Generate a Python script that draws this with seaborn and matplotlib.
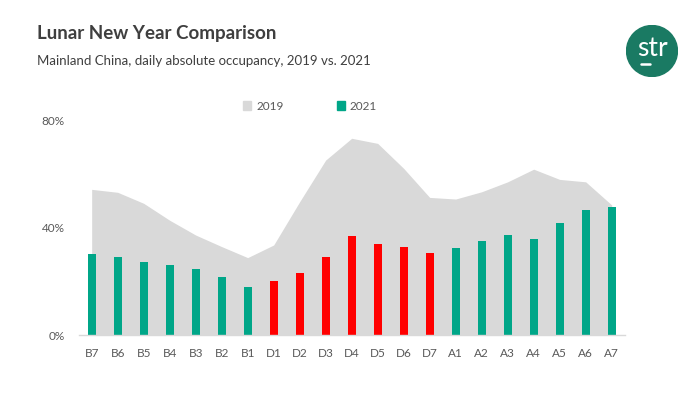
import numpy as np
import pandas as pd
import matplotlib
matplotlib.use("Agg")
import matplotlib.pyplot as plt
import seaborn as sns
from matplotlib.patches import Circle, Patch

# Данные
days = ["B7", "B6", "B5", "B4", "B3", "B2", "B1",
        "D1", "D2", "D3", "D4", "D5", "D6", "D7",
        "A1", "A2", "A3", "A4", "A5", "A6", "A7"]
occ_2019 = [54.2, 53.1, 49.0, 42.7, 37.2, 32.9, 28.8,
            33.5, 49.6, 65.1, 73.2, 71.3, 62.0, 51.2,
            50.6, 53.3, 57.0, 61.7, 57.9, 57.0, 48.4]
occ_2021 = [30.0, 28.9, 27.3, 25.9, 24.7, 21.7, 17.7,
            20.2, 22.9, 29.1, 36.7, 34.0, 32.9, 30.4,
            32.3, 35.1, 37.1, 35.6, 41.6, 46.4, 47.7]
period = ["before"] * 7 + ["holiday"] * 7 + ["after"] * 7

GREY = "#d9d9d9"
TEAL = "#00a688"
RED = "#ff0000"
TEXT = "#595959"

df = pd.DataFrame({"day": days, "y2019": np.array(occ_2019) / 100,
                   "y2021": np.array(occ_2021) / 100, "period": period})

sns.set_style("white")
plt.rcParams["font.family"] = ["Lato", "DejaVu Sans"]

fig = plt.figure(figsize=(7, 3.94), dpi=100)
ax = fig.add_axes([0.1124, 0.1497, 0.78, 0.5457])

# 2019 - площадь
ax.fill_between(np.arange(len(days)), df["y2019"], color=GREY, lw=0, zorder=0)

# 2021 - столбцы
bar_colors = {d: (RED if p == "holiday" else TEAL) for d, p in zip(days, period)}
sns.barplot(data=df, x="day", y="y2021", hue="day", palette=bar_colors,
            order=days, width=0.31, legend=False, ax=ax, zorder=2,
            saturation=1, linewidth=0, edgecolor="none")

ax.set_xlim(-0.5, len(days) - 0.5)
ax.set_ylim(0, 0.8)
ax.set_yticks([0, 0.4, 0.8])
ax.set_yticklabels(["0%", "40%", "80%"])
ax.set_xlabel("")
ax.set_ylabel("")
ax.tick_params(axis="both", length=0, colors=TEXT, labelsize=8.5)
ax.tick_params(axis="x", pad=9)
ax.tick_params(axis="y", pad=10)
for s in ["top", "right", "left"]:
    ax.spines[s].set_visible(False)
ax.spines["bottom"].set_color(GREY)
ax.spines["bottom"].set_linewidth(1)
ax.patch.set_alpha(0)

# Легенда
handles = [Patch(color=GREY, label="2019"), Patch(color=TEAL, label="2021")]
fig.legend(handles=handles, loc="center", bbox_to_anchor=(310 / 700, 1 - 106 / 394),
           ncol=2, frameon=False, fontsize=8.5, labelcolor=TEXT,
           handlelength=0.7, handleheight=0.7, handletextpad=0.4, columnspacing=4.5)

# Заголовки
fig.text(37 / 700, 1 - 33 / 394, "Lunar New Year Comparison", fontsize=13.5,
         fontweight="bold", color="#3f3f3f", va="center", ha="left")
fig.text(37 / 700, 1 - 61 / 394, "Mainland China, daily absolute occupancy, 2019 vs. 2021",
         fontsize=9.5, color="#3f3f3f", va="center", ha="left")

# Логотип
logo = fig.add_axes([626 / 700, 1 - 77 / 394, 52 / 700, 52 / 394])
logo.set_xlim(-1, 1)
logo.set_ylim(-1, 1)
logo.set_aspect("equal")
logo.axis("off")
logo.add_patch(Circle((0, 0), 0.98, color="#1a7a63"))
logo.text(0.02, 0.08, "str", color="white", fontsize=19, ha="center", va="center")
logo.plot([-0.42, -0.08], [-0.5, -0.5], color="white", lw=1.8)

fig.savefig("out.png", dpi=100)
